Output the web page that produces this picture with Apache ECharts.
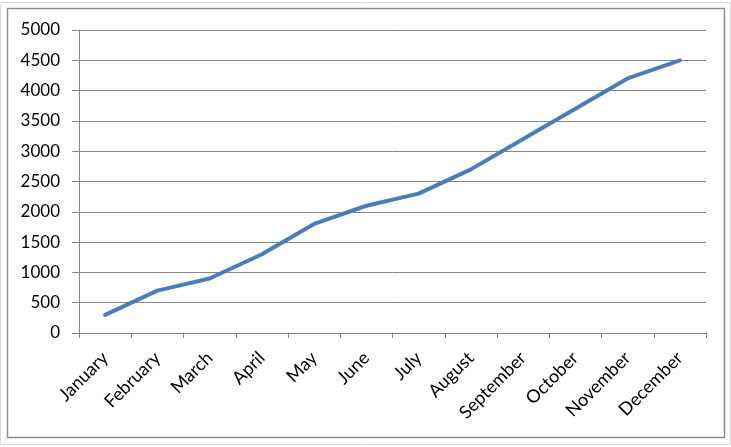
<!DOCTYPE html>
<html><head><meta charset="utf-8">
<script src="https://cdn.jsdelivr.net/npm/echarts@6/dist/echarts.min.js"></script>
<style>html,body{margin:0;padding:0;background:#fff}#c{width:731px;height:447px}</style>
</head><body><div id="c"></div>
<script>
const categories = ["January","February","March","April","May","June","July","August","September","October","November","December"];
const values = [300,700,900,1300,1800,2100,2300,2700,3200,3700,4200,4500];
const yMin = 0, yMax = 5000, yStep = 500;

const chart = echarts.init(document.getElementById('c'));
const font = 'Lato, "Open Sans", sans-serif';
chart.setOption({
  animation: false,
  graphic: [
    {type:'rect', shape:{x:0.5,y:2.5,width:730,height:442}, style:{fill:'none', stroke:'#d9d9d9', lineWidth:1}, silent:true},
    {type:'rect', shape:{x:7.5,y:8.5,width:717,height:429}, style:{fill:'#fff', stroke:'#8e8e8e', lineWidth:1.5}, silent:true, z:-1}
  ],
  grid: {left:79, right:25, top:30, bottom:114},
  xAxis: {
    type:'category', data:categories, boundaryGap:true,
    axisLine:{lineStyle:{color:'#868686', width:1}},
    axisTick:{show:true, length:5, alignWithLabel:false, lineStyle:{color:'#868686'}},
    axisLabel:{rotate:45, interval:0, margin:22, color:'#000', fontSize:18, fontFamily:font}
  },
  yAxis: {
    type:'value', min:yMin, max:yMax, interval:yStep,
    axisLine:{show:true, lineStyle:{color:'#868686', width:1}},
    axisTick:{show:true, length:7, lineStyle:{color:'#868686'}},
    splitLine:{lineStyle:{color:'#868686', width:1}},
    axisLabel:{margin:19, color:'#000', fontSize:17, fontFamily:font, formatter: v => String(v)}
  },
  series: [{
    type:'line', data:values, symbol:'none',
    lineStyle:{color:'#4A7EBB', width:4, cap:'round', join:'round'}
  }]
});
</script></body></html>
